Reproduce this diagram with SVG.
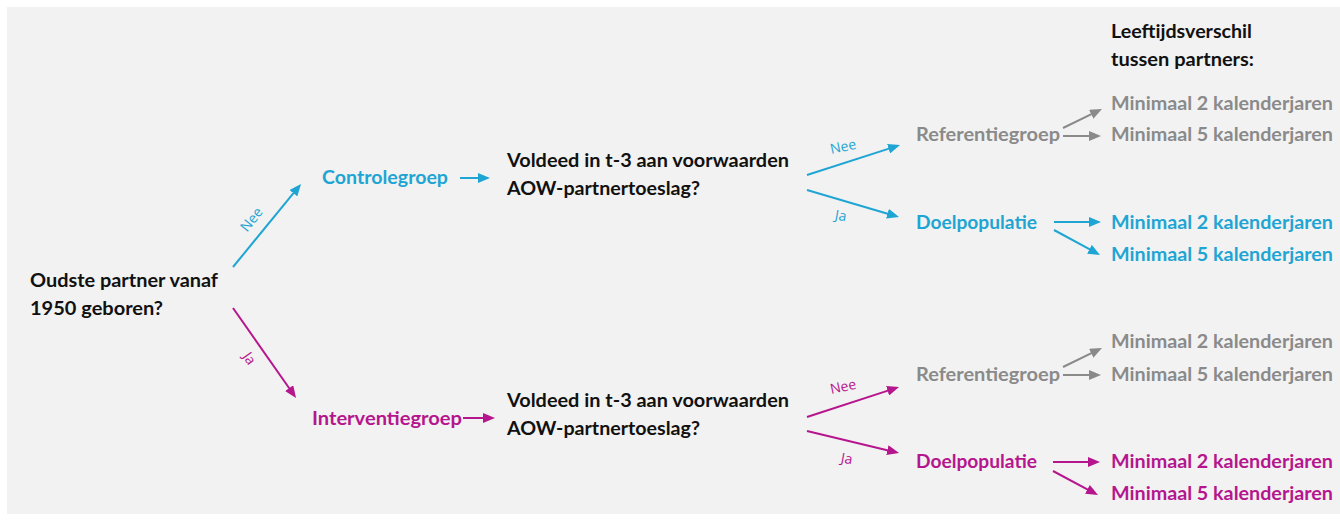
<svg xmlns="http://www.w3.org/2000/svg" width="1340" height="520" viewBox="0 0 1340 520">
<style>
  .t { font-family: Lato, "Open Sans", "Liberation Sans", sans-serif; font-weight: bold; font-size: 18px; }
  .k { fill: #111111; }
  .b { fill: #1fa5d3; }
  .m { fill: #b5168d; }
  .g { fill: #8a8a8a; }
  .lbl { font-family: "Open Sans", Lato, "Liberation Sans", sans-serif; font-size: 14px; text-anchor: middle; dominant-baseline: central; }
  .lb { stroke: #1fa5d3; stroke-width: 2; fill: none; }
  .lm { stroke: #b5168d; stroke-width: 2; fill: none; }
  .lg { stroke: #8a8a8a; stroke-width: 2; fill: none; }
</style>
<defs>
  <marker id="ab" viewBox="0 0 12 10" markerWidth="12" markerHeight="10" refX="2" refY="5" markerUnits="userSpaceOnUse" orient="auto"><path d="M0,0 L12,5 L0,10 z" fill="#1fa5d3"/></marker>
  <marker id="am" viewBox="0 0 12 10" markerWidth="12" markerHeight="10" refX="2" refY="5" markerUnits="userSpaceOnUse" orient="auto"><path d="M0,0 L12,5 L0,10 z" fill="#b5168d"/></marker>
  <marker id="ag" viewBox="0 0 12 10" markerWidth="12" markerHeight="10" refX="2" refY="5" markerUnits="userSpaceOnUse" orient="auto"><path d="M0,0 L12,5 L0,10 z" fill="#8a8a8a"/></marker>
</defs>
<rect x="7" y="7" width="1333" height="507" fill="#f2f2f2"/>

<g id="connectors">
  <line class="lb" x1="233" y1="267" x2="294.7" y2="191.7" marker-end="url(#ab)"/>
  <line class="lm" x1="233" y1="308" x2="290.3" y2="389.8" marker-end="url(#am)"/>
  <line class="lb" x1="460" y1="178" x2="480" y2="178" marker-end="url(#ab)"/>
  <line class="lm" x1="463" y1="418" x2="485" y2="418" marker-end="url(#am)"/>
  <line class="lb" x1="807" y1="175" x2="890.5" y2="148.1" marker-end="url(#ab)"/>
  <line class="lb" x1="807" y1="190" x2="889.4" y2="214.2" marker-end="url(#ab)"/>
  <line class="lm" x1="807" y1="417" x2="889.5" y2="390.1" marker-end="url(#am)"/>
  <line class="lm" x1="807" y1="431" x2="889.3" y2="450.7" marker-end="url(#am)"/>
  <line class="lg" x1="1063" y1="128" x2="1093" y2="113.4" marker-end="url(#ag)"/>
  <line class="lg" x1="1063" y1="136" x2="1091" y2="136" marker-end="url(#ag)"/>
  <line class="lb" x1="1054" y1="222" x2="1091" y2="222" marker-end="url(#ab)"/>
  <line class="lb" x1="1054" y1="230" x2="1091.2" y2="250.2" marker-end="url(#ab)"/>
  <line class="lg" x1="1063" y1="367" x2="1093" y2="352.4" marker-end="url(#ag)"/>
  <line class="lg" x1="1063" y1="375" x2="1091" y2="375" marker-end="url(#ag)"/>
  <line class="lm" x1="1053" y1="462" x2="1090" y2="462" marker-end="url(#am)"/>
  <line class="lm" x1="1053" y1="471" x2="1089.2" y2="490.3" marker-end="url(#am)"/>
  <text class="lbl b" transform="translate(251,219) rotate(-51)">Nee</text>
  <text class="lbl m" transform="translate(250,358) rotate(55)">Ja</text>
  <text class="lbl b" transform="translate(843,146) rotate(-12)">Nee</text>
  <text class="lbl b" transform="translate(841,215) rotate(10)">Ja</text>
  <text class="lbl m" transform="translate(843,386) rotate(-12)">Nee</text>
  <text class="lbl m" transform="translate(847,458) rotate(10)">Ja</text>
</g>

<g id="start">
  <text class="t k" x="30" y="287" textLength="188" lengthAdjust="spacingAndGlyphs">Oudste partner vanaf</text>
  <text class="t k" x="30" y="315" textLength="133" lengthAdjust="spacingAndGlyphs">1950 geboren?</text>
</g>
<g id="controlegroep">
  <text class="t b" x="322" y="184" textLength="126" lengthAdjust="spacingAndGlyphs">Controlegroep</text>
</g>
<g id="interventiegroep">
  <text class="t m" x="312" y="425" textLength="150" lengthAdjust="spacingAndGlyphs">Interventiegroep</text>
</g>
<g id="vraag-controle">
  <text class="t k" x="507" y="167" textLength="282" lengthAdjust="spacingAndGlyphs">Voldeed in t-3 aan voorwaarden</text>
  <text class="t k" x="507" y="195" textLength="193" lengthAdjust="spacingAndGlyphs">AOW-partnertoeslag?</text>
</g>
<g id="vraag-interventie">
  <text class="t k" x="507" y="407" textLength="282" lengthAdjust="spacingAndGlyphs">Voldeed in t-3 aan voorwaarden</text>
  <text class="t k" x="507" y="435" textLength="193" lengthAdjust="spacingAndGlyphs">AOW-partnertoeslag?</text>
</g>
<g id="referentie-controle">
  <text class="t g" x="916" y="141" textLength="144" lengthAdjust="spacingAndGlyphs">Referentiegroep</text>
</g>
<g id="doel-controle">
  <text class="t b" x="916" y="229" textLength="121" lengthAdjust="spacingAndGlyphs">Doelpopulatie</text>
</g>
<g id="referentie-interventie">
  <text class="t g" x="916" y="381" textLength="144" lengthAdjust="spacingAndGlyphs">Referentiegroep</text>
</g>
<g id="doel-interventie">
  <text class="t m" x="916" y="468" textLength="121" lengthAdjust="spacingAndGlyphs">Doelpopulatie</text>
</g>
<g id="kop">
  <text class="t k" x="1111" y="38" textLength="141" lengthAdjust="spacingAndGlyphs">Leeftijdsverschil</text>
  <text class="t k" x="1111" y="66" textLength="143" lengthAdjust="spacingAndGlyphs">tussen partners:</text>
</g>
<g id="ref-c-2"><text class="t g" x="1111" y="110" textLength="222" lengthAdjust="spacingAndGlyphs">Minimaal 2 kalenderjaren</text></g>
<g id="ref-c-5"><text class="t g" x="1111" y="141" textLength="222" lengthAdjust="spacingAndGlyphs">Minimaal 5 kalenderjaren</text></g>
<g id="doel-c-2"><text class="t b" x="1111" y="229" textLength="222" lengthAdjust="spacingAndGlyphs">Minimaal 2 kalenderjaren</text></g>
<g id="doel-c-5"><text class="t b" x="1111" y="261" textLength="222" lengthAdjust="spacingAndGlyphs">Minimaal 5 kalenderjaren</text></g>
<g id="ref-i-2"><text class="t g" x="1111" y="348" textLength="222" lengthAdjust="spacingAndGlyphs">Minimaal 2 kalenderjaren</text></g>
<g id="ref-i-5"><text class="t g" x="1111" y="381" textLength="222" lengthAdjust="spacingAndGlyphs">Minimaal 5 kalenderjaren</text></g>
<g id="doel-i-2"><text class="t m" x="1111" y="468" textLength="222" lengthAdjust="spacingAndGlyphs">Minimaal 2 kalenderjaren</text></g>
<g id="doel-i-5"><text class="t m" x="1111" y="500" textLength="222" lengthAdjust="spacingAndGlyphs">Minimaal 5 kalenderjaren</text></g>
</svg>
